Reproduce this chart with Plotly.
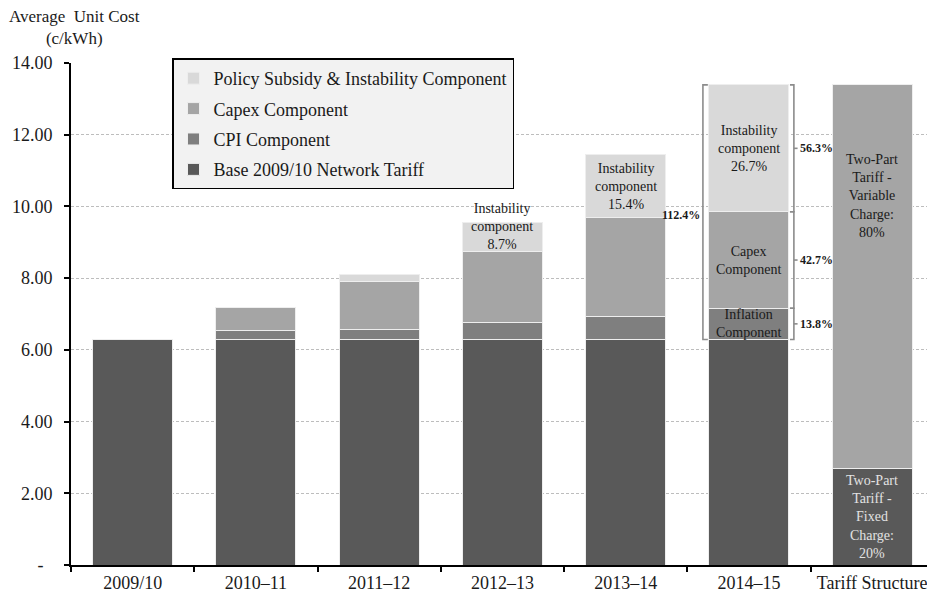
import plotly.graph_objects as go

# ---- data -------------------------------------------------------------
categories = ["2009/10", "2010–11", "2011–12", "2012–13", "2013–14", "2014–15", "Tariff Structure"]
years = categories[:6]

base_tariff = [6.29, 6.29, 6.29, 6.29, 6.29, 6.29]
cpi_component = [None, 0.24, 0.29, 0.46, 0.63, 0.87]
capex_component = [None, 0.64, 1.34, 1.98, 2.76, 2.69]
policy_component = [None, None, 0.17, 0.83, 1.76, 3.54]

fixed_charge_share = 0.20

y_tick_values = [0, 2, 4, 6, 8, 10, 12, 14]
y_tick_labels = ["-\u00a0\u00a0", "2.00", "4.00", "6.00", "8.00", "10.00", "12.00", "14.00"]

# increase over the 2009/10 base for 2014-15
increase_total = "112.4%"
increase_inflation = "13.8%"
increase_capex = "42.7%"
increase_instability = "56.3%"

# ---- styling ----------------------------------------------------------
FONT = "Liberation Serif"
TEXT = "#1a1a1a"
C_BASE = "#595959"
C_CPI = "#7f7f7f"
C_CAPEX = "#a5a5a5"
C_POLICY = "#d9d9d9"
EDGE = dict(color="#eeeeee", width=1)
BAR_W = 0.65

fig = go.Figure()

# legend rank puts the top stack segment first in the legend
series = [
    ("Base 2009/10 Network Tariff", base_tariff, C_BASE, 4),
    ("CPI Component", cpi_component, C_CPI, 3),
    ("Capex Component", capex_component, C_CAPEX, 2),
    ("Policy Subsidy & Instability Component", policy_component, C_POLICY, 1),
]
for name, vals, col, rank in series:
    fig.add_trace(go.Bar(
        x=years, y=vals, name=name, width=BAR_W,
        marker=dict(color=col, line=EDGE),
        legendgroup=name, legendrank=rank, hoverinfo="skip",
    ))

# two-part tariff split of the 2014-15 average cost
i15 = 5
tariff_total = base_tariff[i15] + cpi_component[i15] + capex_component[i15] + policy_component[i15]
fixed_charge = tariff_total * fixed_charge_share
variable_charge = tariff_total - fixed_charge

fig.add_trace(go.Bar(x=[categories[6]], y=[fixed_charge], width=BAR_W, showlegend=False,
                     marker=dict(color=C_BASE, line=EDGE), hoverinfo="skip"))
fig.add_trace(go.Bar(x=[categories[6]], y=[variable_charge], width=BAR_W, showlegend=False,
                     marker=dict(color=C_CAPEX, line=EDGE), hoverinfo="skip"))

# ---- in-bar labels ----------------------------------------------------
def stack_tops(i):
    b = base_tariff[i]
    c = b + (cpi_component[i] or 0)
    k = c + (capex_component[i] or 0)
    p = k + (policy_component[i] or 0)
    return b, c, k, p

lab = dict(showarrow=False, font=dict(family=FONT, size=14, color=TEXT), align="center")

b, c, k, p = stack_tops(3)
fig.add_annotation(x=3, y=k, yanchor="bottom", yshift=-2, text="Instability<br>component<br>8.7%", **lab)

b, c, k, p = stack_tops(4)
fig.add_annotation(x=4, y=(k + p) / 2, text="Instability<br>component<br>15.4%", **lab)

b, c, k, p = stack_tops(5)
fig.add_annotation(x=5, y=(k + p) / 2, text="Instability<br>component<br>26.7%", **lab)
fig.add_annotation(x=5, y=(c + k) / 2, text="Capex<br>Component", **lab)
fig.add_annotation(x=5, y=(b + c) / 2, text="Inflation<br>Component", **lab)

fig.add_annotation(x=6, y=10.3, text="Two-Part<br>Tariff -<br>Variable<br>Charge:<br>80%", **lab)
fig.add_annotation(x=6, y=fixed_charge / 2, text="Two-Part<br>Tariff -<br>Fixed<br>Charge:<br>20%",
                   showarrow=False, align="center",
                   font=dict(family=FONT, size=14, color="#e2e2e2"))

# ---- brackets for 2014-15 ---------------------------------------------
BR = dict(color="#8c8c8c", width=1.6)
pct = dict(showarrow=False, font=dict(family=FONT, size=12, color=TEXT, weight="bold"))

# left bracket: total increase over base
xv, xh = i15 - 0.373, i15 - 0.333
fig.add_shape(type="path", path=f"M{xh},{b} L{xv},{b} L{xv},{p} L{xh},{p}", line=BR)
fig.add_annotation(x=i15 - 0.38, y=(b + p) / 2, yshift=-3, xanchor="right", text=increase_total, **pct)

# right brackets: per-component increases
xv, xh, xt = i15 + 0.365, i15 + 0.333, i15 + 0.395
for lo, hi, txt in [(b, c, increase_inflation), (c, k, increase_capex), (k, p, increase_instability)]:
    fig.add_shape(type="path", path=f"M{xh},{lo} L{xv},{lo} L{xv},{hi} L{xh},{hi}", line=BR)
    mid = (lo + hi) / 2
    fig.add_shape(type="line", x0=xv, x1=xt, y0=mid, y1=mid, line=BR)
    fig.add_annotation(x=xt + 0.005, y=mid, xanchor="left", text=txt, **pct)

# ---- axis title -------------------------------------------------------
fig.add_annotation(xref="paper", yref="paper", x=0.004, y=1.115, xanchor="center", yanchor="top",
                   text="Average  Unit Cost<br>(c/kWh)", showarrow=False, align="center",
                   font=dict(family=FONT, size=17, color=TEXT))

fig.update_layout(
    width=927, height=597,
    margin=dict(l=71, r=0, t=63, b=32),
    barmode="stack",
    paper_bgcolor="white", plot_bgcolor="white",
    font=dict(family=FONT, size=18, color=TEXT),
    showlegend=True,
    legend=dict(
        x=0.118, y=1.009, xanchor="left", yanchor="top",
        bgcolor="#f2f2f2", bordercolor="#000000", borderwidth=1.5,
        traceorder="grouped", tracegroupgap=4,
        font=dict(family=FONT, size=18, color=TEXT),
    ),
    xaxis=dict(
        type="category", categoryorder="array", categoryarray=categories,
        range=[-0.5, 6.445],
        showline=True, linecolor="black", linewidth=2,
        ticks="outside", tickson="boundaries", ticklen=5, tickwidth=2, tickcolor="black",
        showgrid=False, tickfont=dict(size=18),
    ),
    yaxis=dict(
        range=[0, 14], tickvals=y_tick_values, ticktext=y_tick_labels,
        showline=True, linecolor="black", linewidth=2,
        ticks="outside", ticklen=5, tickwidth=2, tickcolor="black",
        showgrid=True, gridcolor="#bdbdbd", gridwidth=1, griddash="3px,2px",
        zeroline=False, ticklabelstandoff=8, tickfont=dict(size=18),
    ),
)

fig.write_html("out.html")
